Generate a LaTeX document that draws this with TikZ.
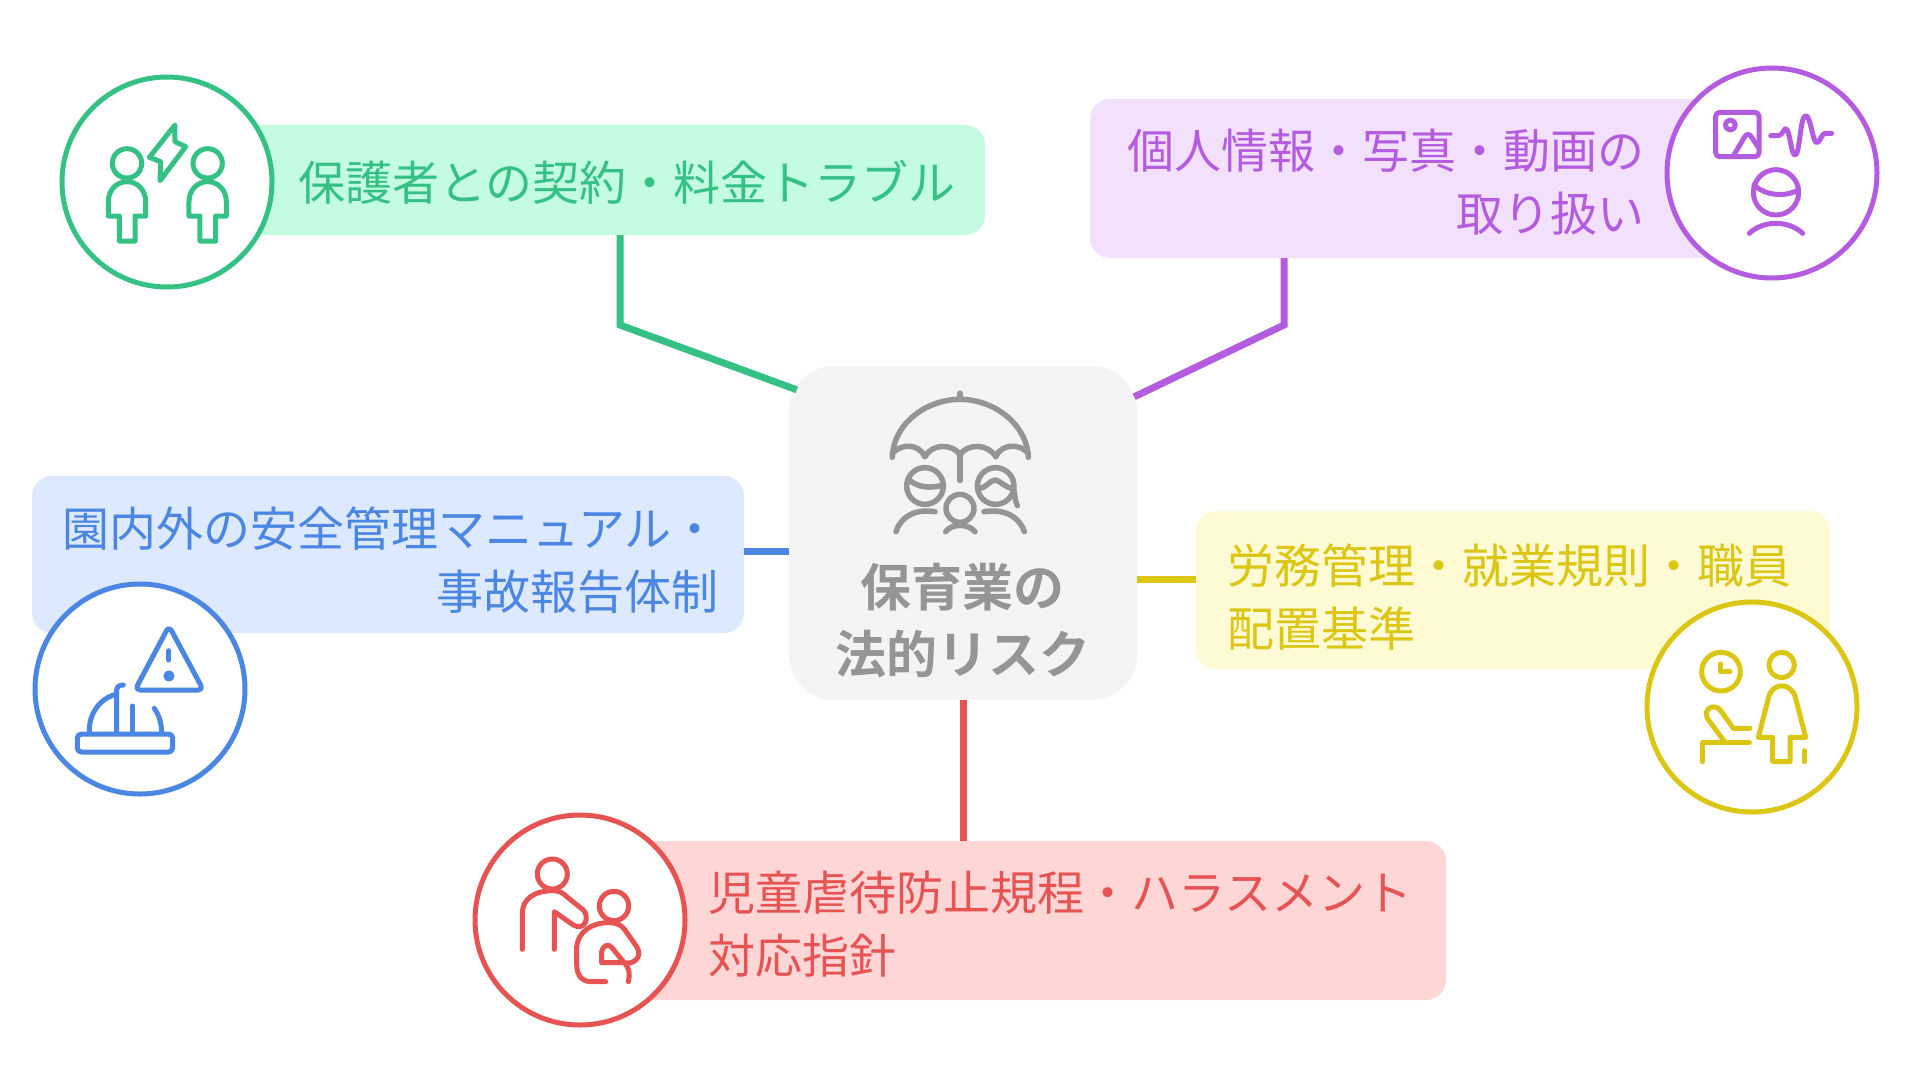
\documentclass[tikz,border=0pt]{standalone}
\usepackage{fontspec}
\setmainfont{Noto Sans CJK JP}
\newfontfamily\jpbold{Noto Sans CJK JP Bold}
\definecolor{cgreen}{HTML}{35C084}\definecolor{fgreen}{HTML}{C3FCE1}
\definecolor{cpurple}{HTML}{B45CE0}\definecolor{fpurple}{HTML}{F3E0FD}
\definecolor{cblue}{HTML}{4A86E2}\definecolor{fblue}{HTML}{DDE9FE}
\definecolor{cyellow}{HTML}{DBC614}\definecolor{fyellow}{HTML}{FEFAD3}
\definecolor{cred}{HTML}{E65353}\definecolor{fred}{HTML}{FFD6D6}
\definecolor{cgray}{HTML}{959595}\definecolor{fgray}{HTML}{F4F4F4}
\tikzset{
  cardbox/.style n args={3}{rectangle,rounded corners=20pt,fill=#1,draw=none,minimum width=#2,minimum height=#3,inner sep=0pt},
  badge/.style n args={1}{circle,fill=white,draw=#1,line width=5pt,minimum size=210pt,inner sep=0pt,outer sep=0pt},
  label/.style={inner sep=0pt,font=\fontsize{47pt}{63pt}\selectfont},
  link/.style={line width=7pt},
  ico/.style={line width=5pt,line cap=round,line join=round},
}
\begin{document}
\begin{tikzpicture}[x=1pt,y=-1pt]
\useasboundingbox (0,0) rectangle (1920,1080);
% boxes
\node[cardbox={fgray}{348pt}{334pt},rounded corners=45pt] (hub) at (963,533) {};
\node[cardbox={fgreen}{805pt}{110pt}] (gbox) at (582.5,180) {};
\node[cardbox={fpurple}{690pt}{159pt}] (pbox) at (1435,178.5) {};
\node[cardbox={fblue}{712pt}{157pt}] (bbox) at (388,554.5) {};
\node[cardbox={fyellow}{634pt}{158pt}] (ybox) at (1513,590) {};
\node[cardbox={fred}{846pt}{159pt}] (rbox) at (1023,920.5) {};
% connectors
\coordinate (gk) at (620,325);
\coordinate (pk) at (1284,325);
\coordinate (bl) at (766,551);
\coordinate (yl) at (1166,579);
\draw[link,cgreen] ([xshift=37.5pt]gbox.south) -- (gk) -- ([xshift=8pt,yshift=-24pt]hub.north west);
\draw[link,cpurple] ([xshift=-151pt]pbox.south) -- (pk) -- ([xshift=-3pt,yshift=-31pt]hub.north east);
\draw[link,cblue] (bbox.east |- bl) -- (hub.west |- bl);
\draw[link,cyellow] (hub.east |- yl) -- (ybox.west |- yl);
\draw[link,cred] (hub.south) -- (rbox.north -| hub.south);
% badges
\node[badge={cgreen}] (gc) at (167,182) {};
\node[badge={cpurple}] (pc) at (1772,173) {};
\node[badge={cblue}] (bc) at (140,689) {};
\node[badge={cyellow}] (yc) at (1752,707) {};
\node[badge={cred}] (rc) at (580,920) {};
% labels
\node[label,anchor=west,text=cgreen] (gt) at (298,182) {保護者との契約・料金トラブル};
\node[label,anchor=east,align=right,text=cpurple] (pt) at (1645,182) {個人情報・写真・動画の\\取り扱い};
\node[label,anchor=east,align=right,text=cblue] (bt) at (719,560) {園内外の安全管理マニュアル・\\事故報告体制};
\node[label,anchor=west,align=left,text=cyellow] (yt) at (1227,597) {労務管理・就業規則・職員\\配置基準};
\node[label,anchor=west,align=left,text=cred] (rt) at (708,924) {児童虐待防止規程・ハラスメント\\対応指針};
\node[inner sep=0pt,align=center,text=cgray,font=\jpbold\fontsize{51pt}{67pt}\selectfont] (ht) at (962.5,620.5) {保育業の\\法的リスク};
% green icon
\begin{scope}[shift={(40,60)},scale=1/3,ico,draw=cgreen]
\draw (261,310) circle[radius=44];
\draw (503,310) circle[radius=44];
\foreach \d in {0,242}{
\begin{scope}[xshift=\d]
\draw (238,468) -- (205,468) -- (205,425) .. controls (205,390) and (230,365) .. (261,365) .. controls (292,365) and (317,390) .. (317,425) -- (317,468) -- (285,468) -- (285,543) -- (238,543) -- cycle;
\end{scope}}
\draw (405,195) -- (405,245) -- (437,260) -- (360,362) -- (362,305) -- (328,292) -- cycle;
\end{scope}
% purple icon
\begin{scope}[shift={(1650,50)},scale=1/3,ico,draw=cpurple]
\draw[rounded corners=4pt] (197,187) rectangle (327,320);
\draw (241,225) circle[radius=15];
\draw (250,318) -- (283,262) .. controls (290,250) and (298,250) .. (305,262) -- (327,295);
\draw (362,257) -- (385,257) .. controls (400,257) and (403,225) .. (412,240) .. controls (422,265) and (425,315) .. (435,315) .. controls (450,315) and (450,197) .. (467,197) .. controls (482,197) and (488,278) .. (500,278) .. controls (510,278) and (515,250) .. (525,250) -- (545,250);
\draw (378,427) circle[radius=68];
\draw (312,405) .. controls (350,440) and (410,440) .. (445,420);
\draw (298,550) .. controls (340,510) and (415,510) .. (458,550);
\end{scope}
% blue icon
\begin{scope}[shift={(20,570)},scale=1/3,ico,draw=cblue]
\draw[rounded corners=5pt] (447,168) -- (345,360) -- (550,360) -- cycle;
\draw (447,242) -- (447,270);
\draw (447,318) circle[radius=9];
\draw[rounded corners=4pt] (172,492) rectangle (458,546);
\draw (208,490) .. controls (205,430) and (240,385) .. (290,372);
\draw (290,490) -- (290,362) .. controls (290,350) and (298,345) .. (310,345);
\draw (338,490) -- (338,408);
\draw (403,415) .. controls (420,440) and (425,465) .. (425,490);
\end{scope}
% yellow icon
\begin{scope}[shift={(1630,590)},scale=1/3,ico,draw=cyellow]
\draw (273,245) circle[radius=58];
\draw (272,222) -- (272,245) -- (300,245);
\draw (455,225) circle[radius=38];
\draw (385,442) -- (415,325) .. controls (425,275) and (485,275) .. (497,325) -- (527,442) -- (480,442) -- (480,515) -- (428,515) -- (428,442) -- cycle;
\draw (523,482) -- (523,515);
\draw (218,515) -- (218,457) -- (358,457);
\draw (360,415) -- (310,415) -- (272,362) .. controls (255,338) and (218,355) .. (232,385) -- (285,457);
\end{scope}
% red icon
\begin{scope}[shift={(460,800)},scale=1/3,ico,draw=cred]
\draw (277,222) circle[radius=45];
\draw (187,448) -- (187,340) .. controls (187,295) and (225,272) .. (280,272) .. controls (300,272) and (310,280) .. (320,290) -- (370,330) .. controls (390,350) and (375,395) .. (340,375) -- (283,335) -- (283,448);
\draw (462,318) circle[radius=44];
\draw (437,545) -- (395,545) .. controls (360,545) and (350,520) .. (350,490) -- (350,440) .. controls (355,395) and (395,368) .. (445,368) .. controls (470,368) and (485,375) .. (495,390) -- (530,440) .. controls (550,470) and (520,495) .. (495,488) -- (425,488) -- (425,455) .. controls (430,435) and (445,430) .. (455,442) -- (490,485) .. controls (510,505) and (510,525) .. (505,545);
\end{scope}
% umbrella icon
\begin{scope}[shift={(780,360)},scale=1/3,ico,line width=5.5pt,draw=cgray]
\draw (337,292) .. controls (340,190) and (440,118) .. (540,118) .. controls (640,118) and (740,190) .. (745,292);
\draw (337,280) .. controls (365,250) and (415,250) .. (435,290);
\draw (435,290) .. controls (455,250) and (520,250) .. (540,285);
\draw (540,285) .. controls (560,250) and (625,250) .. (647,290);
\draw (647,290) .. controls (665,250) and (720,250) .. (745,280);
\draw (540,100) -- (540,118);
\draw (540,280) -- (540,362);
\draw (435,378) circle[radius=55];
\draw (385,358) .. controls (415,385) and (455,385) .. (490,375);
\draw (348,515) .. controls (360,475) and (400,445) .. (465,455);
\draw (647,378) circle[radius=55];
\draw (595,385) .. controls (620,385) and (630,360) .. (645,360) .. controls (660,360) and (675,385) .. (700,385) .. controls (705,400) and (705,425) .. (712,437);
\draw (612,455) .. controls (680,445) and (720,475) .. (733,515);
\draw (540,445) circle[radius=42];
\draw (497,515) .. controls (515,490) and (565,490) .. (585,515);
\end{scope}
\end{tikzpicture}
\end{document}
